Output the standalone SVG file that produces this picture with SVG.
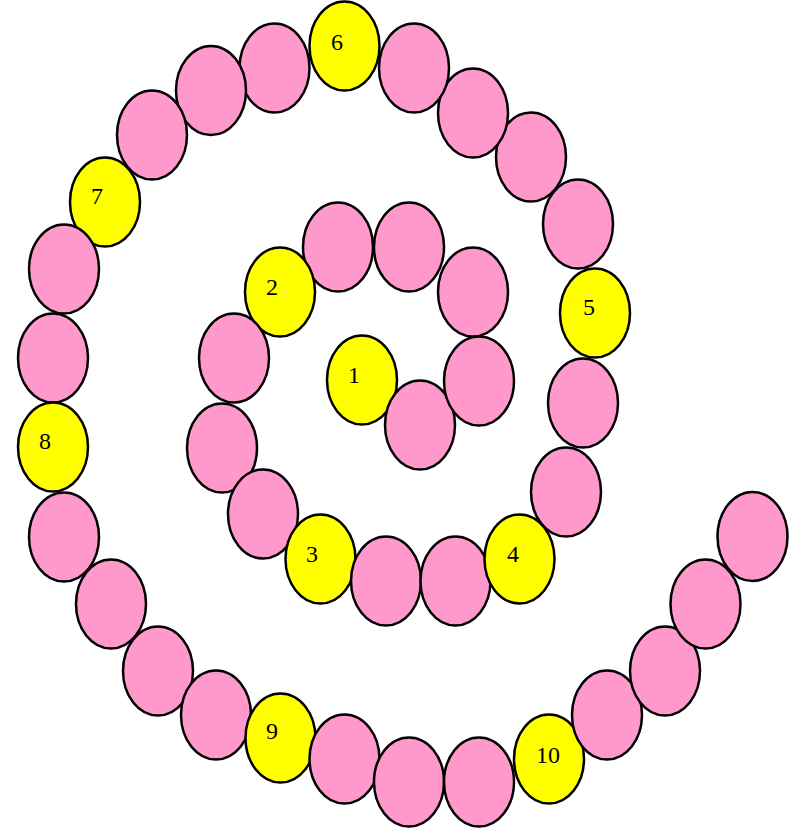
<svg xmlns="http://www.w3.org/2000/svg" width="802" height="832" viewBox="0 0 802 832">
<style>
ellipse{stroke:#000;stroke-width:2.5}
.p{fill:#ff99cc}
.y{fill:#ffff00}
text{font-family:"Liberation Serif","Times New Roman",serif;font-size:24px;fill:#000;text-anchor:middle}
</style>
<rect width="802" height="832" fill="#fff"/>
<g id="connectors"></g>
<g id="spiral">
<g id="n1"><ellipse class="y" cx="362" cy="380" rx="35" ry="44.5"/><text x="354" y="383">1</text></g>
<g id="b1"><ellipse class="p" cx="420" cy="425" rx="35" ry="44.5"/></g>
<g id="b2"><ellipse class="p" cx="479" cy="381" rx="35" ry="44.5"/></g>
<g id="b3"><ellipse class="p" cx="473" cy="292" rx="35" ry="44.5"/></g>
<g id="b4"><ellipse class="p" cx="409" cy="247" rx="35" ry="44.5"/></g>
<g id="b5"><ellipse class="p" cx="338" cy="247" rx="35" ry="44.5"/></g>
<g id="n2"><ellipse class="y" cx="280" cy="292" rx="35" ry="44.5"/><text x="272" y="295">2</text></g>
<g id="b6"><ellipse class="p" cx="234" cy="358" rx="35" ry="44.5"/></g>
<g id="b7"><ellipse class="p" cx="222" cy="448" rx="35" ry="44.5"/></g>
<g id="b8"><ellipse class="p" cx="263" cy="514" rx="35" ry="44.5"/></g>
<g id="n3"><ellipse class="y" cx="320.5" cy="559" rx="35" ry="44.5"/><text x="312" y="562">3</text></g>
<g id="b9"><ellipse class="p" cx="386" cy="581" rx="35" ry="44.5"/></g>
<g id="b10"><ellipse class="p" cx="455.5" cy="581" rx="35" ry="44.5"/></g>
<g id="n4"><ellipse class="y" cx="519.5" cy="559" rx="35" ry="44.5"/><text x="513" y="562">4</text></g>
<g id="b11"><ellipse class="p" cx="566" cy="492" rx="35" ry="44.5"/></g>
<g id="b12"><ellipse class="p" cx="583" cy="403" rx="35" ry="44.5"/></g>
<g id="n5"><ellipse class="y" cx="595" cy="313" rx="35" ry="44.5"/><text x="589" y="315">5</text></g>
<g id="b13"><ellipse class="p" cx="578" cy="224" rx="35" ry="44.5"/></g>
<g id="b14"><ellipse class="p" cx="531" cy="157" rx="35" ry="44.5"/></g>
<g id="b15"><ellipse class="p" cx="473" cy="113" rx="35" ry="44.5"/></g>
<g id="b16"><ellipse class="p" cx="414" cy="68" rx="35" ry="44.5"/></g>
<g id="n6"><ellipse class="y" cx="344.5" cy="46" rx="35" ry="44.5"/><text x="337" y="50">6</text></g>
<g id="b17"><ellipse class="p" cx="274.5" cy="68" rx="35" ry="44.5"/></g>
<g id="b18"><ellipse class="p" cx="211" cy="90.5" rx="35" ry="44.5"/></g>
<g id="b19"><ellipse class="p" cx="152" cy="135" rx="35" ry="44.5"/></g>
<g id="n7"><ellipse class="y" cx="105" cy="202" rx="35" ry="44.5"/><text x="97" y="204">7</text></g>
<g id="b20"><ellipse class="p" cx="64" cy="269" rx="35" ry="44.5"/></g>
<g id="b21"><ellipse class="p" cx="53" cy="358" rx="35" ry="44.5"/></g>
<g id="n8"><ellipse class="y" cx="53" cy="447" rx="35" ry="44.5"/><text x="45" y="449">8</text></g>
<g id="b22"><ellipse class="p" cx="64" cy="537" rx="35" ry="44.5"/></g>
<g id="b23"><ellipse class="p" cx="111" cy="604" rx="35" ry="44.5"/></g>
<g id="b24"><ellipse class="p" cx="158" cy="671" rx="35" ry="44.5"/></g>
<g id="b25"><ellipse class="p" cx="216" cy="715" rx="35" ry="44.5"/></g>
<g id="n9"><ellipse class="y" cx="280.5" cy="738" rx="35" ry="44.5"/><text x="272" y="739">9</text></g>
<g id="b26"><ellipse class="p" cx="344.5" cy="759" rx="35" ry="44.5"/></g>
<g id="b27"><ellipse class="p" cx="409" cy="782" rx="35" ry="44.5"/></g>
<g id="b28"><ellipse class="p" cx="479" cy="782" rx="35" ry="44.5"/></g>
<g id="n10"><ellipse class="y" cx="549" cy="759" rx="35" ry="44.5"/><text x="548" y="763">10</text></g>
<g id="b29"><ellipse class="p" cx="607" cy="715" rx="35" ry="44.5"/></g>
<g id="b30"><ellipse class="p" cx="665" cy="671" rx="35" ry="44.5"/></g>
<g id="b31"><ellipse class="p" cx="705.5" cy="604" rx="35" ry="44.5"/></g>
<g id="b32"><ellipse class="p" cx="752.5" cy="536.5" rx="35" ry="44.5"/></g>
</g>
</svg>
